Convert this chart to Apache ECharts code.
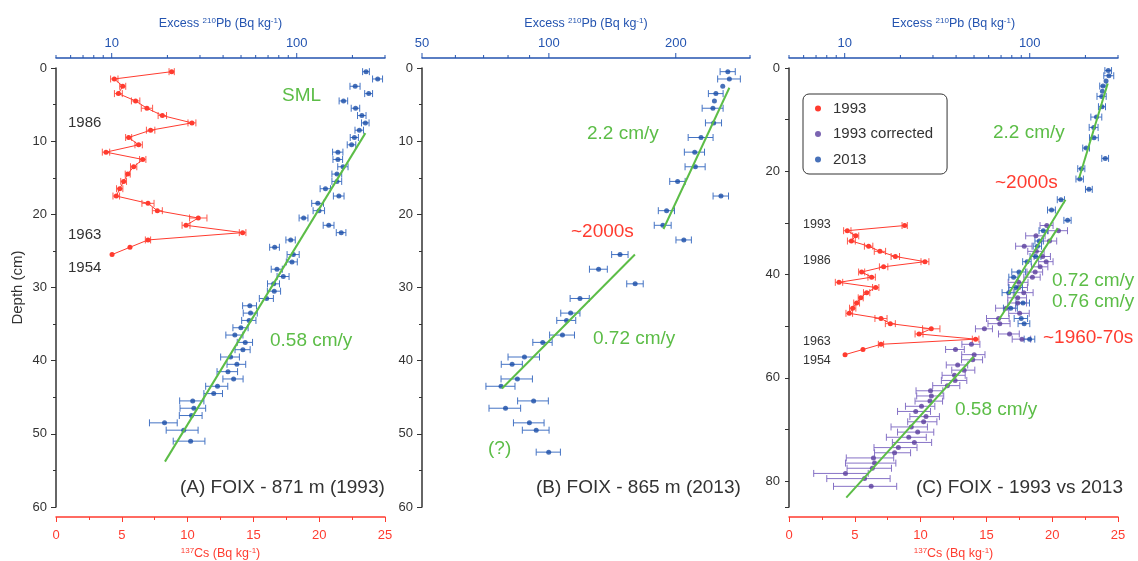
<!DOCTYPE html>
<html>
<head>
<meta charset="utf-8">
<script src="https://cdn.jsdelivr.net/npm/echarts@6/dist/echarts.min.js"></script>
<style>
  html, body { margin: 0; padding: 0; background: #fff; }
  #chart { width: 1138px; height: 561px; }
</style>
</head>
<body>
<div id="chart"></div>
<script>
// ---- data ----
// (A) FOIX 871 m, 1993 core
var csDepthA = [0.5,1.5,2.5,3.5,4.5,5.5,6.5,7.5,8.5,9.5,10.5,11.5,12.5,13.5,14.5,15.5,16.5,17.5,18.5,19.5,20.5,21.5,22.5,23.5,24.5,25.5];
var cs1993 = [8.79,4.43,5.07,4.74,6.05,6.91,8.08,10.33,7.19,5.52,6.28,3.80,6.59,5.90,5.45,5.14,4.84,4.58,6.99,7.70,10.81,9.88,14.18,6.99,5.62,4.26];
var cs1993Err = [0.20,0.28,0.23,0.30,0.32,0.43,0.32,0.30,0.32,0.23,0.28,0.28,0.24,0.24,0.19,0.22,0.24,0.25,0.46,0.38,0.66,0.30,0.25,0.20,0,0];

var pbDepthA = [0.5,1.5,2.5,3.5,4.5,5.5,6.5,7.5,8.5,9.5,10.5,11.5,12.5,13.5,14.5,15.5,16.5,17.5,18.5,19.5,20.5,21.5,22.5,23.5,24.5,25.5,26.5,27.5,28.5,29.5,30.5,31.5,32.5,33.5,34.5,35.5,36.5,37.5,38.5,39.5,40.5,41.5,42.5,43.5,44.5,45.5,46.5,47.5,48.5,49.5,51];
var pb1993 = [237,274,207,245,179,208,225,235,218,205,198,167,167,178,165,165,143,169,130,132,109,149,174,92.8,76,95.9,94.3,78.2,84.6,75.1,75.6,68.8,55.8,56.3,55.3,49.9,46.3,52.7,51.2,43.9,47.5,42.5,45.6,37.3,35.6,27.4,27.8,27.0,19.3,24.5,26.7];
var pb1993Err = [10,17,13,12,9.5,11,11.9,11,11.5,10.4,10.5,10.7,10,11.4,10,10,9.2,11.2,9.5,9.4,6,10,10.4,5.4,4.6,7.2,6.4,5.4,6.3,5.6,6.2,6,4.8,4.9,4.9,4.7,4.9,5,4.8,5.1,5.5,5.4,5.7,5.1,4.1,4.1,4.4,3.8,3.3,4.8,5.2];
var fitA_pb = [235, 19.4];
var fitA_depth = [8.9, 53.8];

// (B) FOIX 865 m, 2013 core
var pbDepthB = [0.5,1.5,2.5,3.5,4.5,5.5,7.5,9.5,11.5,13.5,15.5,17.5,19.5,21.5,23.5,25.5,27.5,29.5,31.5,33.5,34.5,36.5,37.5,39.5,40.5,42.5,43.5,45.5,46.5,48.5,49.5,52.5];
var pb2013 = [265.8,268,258.5,249,247,245,246,229.6,221.8,222.6,202,256,190.2,186.4,209,147.5,131.2,160.2,118.5,112.6,110.1,107.7,96.7,87.5,81.8,84.2,77,92,78.9,89.9,93.3,99.9];
var pb2013Err = [11,16.6,0,10,0,14,10.8,15.6,12.2,12.2,8.5,10.8,8.4,8.6,8.8,6.6,6.4,7.2,6.2,5.9,5.7,7.3,5.1,7.5,4.7,7.2,6.1,7.7,6.8,7.5,6.8,6.6];
var fitB1_pb = [268, 187];
var fitB1_depth = [2.7, 22.0];
var fitB2_pb = [160, 77.4];
var fitB2_depth = [25.5, 43.8];

// (C) 1993 vs 2013 (1993 core shifted, 210Pb decay corrected)
var csDepthC = [30.5,31.5,32.5,33.5,34.5,35.5,36.5,37.5,38.5,39.5,40.5,41.5,42.5,43.5,44.5,45.5,46.5,47.5,48.5,49.5,50.5,51.5,52.5,53.5,54.5,55.5];
var pbDepthC1993 = [30.5,31.5,32.5,33.5,34.5,35.5,36.5,37.5,38.5,39.5,40.5,41.5,42.5,43.5,44.5,45.5,46.5,47.5,48.5,49.5,50.5,51.5,52.5,53.5,54.5,55.5,56.5,57.5,58.5,59.5,60.5,61.5,62.5,63.5,64.5,65.5,66.5,67.5,68.5,69.5,70.5,71.5,72.5,73.5,74.5,75.5,76.5,77.5,78.5,79.5,81];
var pb1993corr = [123.7,143.0,108.1,127.9,93.4,108.6,117.5,122.7,113.8,107.0,103.4,87.2,87.2,92.9,86.1,86.1,74.6,88.2,67.9,68.9,56.9,77.8,90.8,48.4,39.7,50.1,49.2,40.8,44.2,39.2,39.5,35.9,29.1,29.4,28.9,26.0,24.2,27.5,26.7,22.9,24.8,22.2,23.8,19.5,18.6,14.3,14.5,14.1,10.1,12.8,13.9];
var fitC1_pb = [264, 185];
var fitC1_depth = [3.0, 21.3];
var fitC2_pb = [156, 77];
var fitC2_depth = [25.5, 43.7];
var fitC3_pb = [141.7, 68];
var fitC3_depth = [31, 48.8];
var fitC4_pb = [49.8, 10.2];
var fitC4_depth = [55.9, 83.2];

// axis ticks
var pbTicksAC = [5,6,7,8,9,10,20,30,40,50,60,70,80,90,100,200,300];
var pbMajorAC = [10,100];
var pbTicksB = [50,60,70,80,90,100,200,300];
var pbMajorB = [50,100,200];

// ---- styles ----
var FONT = '"Liberation Sans", Arial, sans-serif';
var RED = '#ff3b2f', RED_BAR = '#ff5a4d';
var BLUE = '#1a4ea8', BLUE_BAR = '#4473c4';
var PURPLE = '#5a3d9e', PURPLE_BAR = '#8672c6';
var GREEN = '#5cbd47';
var PB_AXIS = '#2454b0';
var DARK = '#333333';

function pairs(xs, ys) { return xs.map(function (x, i) { return [x, ys[i]]; }); }
function errData(xs, ys, es) {
  var out = [];
  xs.forEach(function (x, i) { if (es[i] > 0) out.push([x, ys[i], x - es[i], x + es[i]]); });
  return out;
}
function errorBarItem(params, api) {
  var y = api.value(1);
  var lo = api.coord([api.value(2), y]);
  var hi = api.coord([api.value(3), y]);
  var h = 3.5;
  var st = { stroke: api.visual('color'), lineWidth: 1 };
  return { type: 'group', children: [
    { type: 'line', shape: { x1: lo[0], y1: lo[1], x2: hi[0], y2: hi[1] }, style: st },
    { type: 'line', shape: { x1: lo[0], y1: lo[1] - h, x2: lo[0], y2: lo[1] + h }, style: st },
    { type: 'line', shape: { x1: hi[0], y1: hi[1] - h, x2: hi[0], y2: hi[1] + h }, style: st }
  ]};
}
// log-axis ticks and labels (ECharts only ticks whole decades on a log axis)
function tickItem(params, api) {
  var v = api.value(0), major = api.value(2);
  var x = api.coord([v, 0])[0];
  var y0 = params.coordSys.y - 10;
  var len = major ? 5 : 3;
  var ch = [{ type: 'line', shape: { x1: x, y1: y0, x2: x, y2: y0 - len }, style: { stroke: PB_AXIS, lineWidth: 1 } }];
  if (major) {
    ch.push({ type: 'text', x: x, y: y0 - 8, style: { text: String(v), fill: PB_AXIS, font: '13px ' + FONT, align: 'center', verticalAlign: 'bottom' } });
  }
  return { type: 'group', children: ch };
}
function tickData(ticks, major) {
  return ticks.map(function (v) { return [v, 0, major.indexOf(v) >= 0 ? 1 : 0]; });
}

function pbAxis(grid, min, max) {
  return {
    type: 'log', logBase: 10, gridIndex: grid, position: 'top', offset: 10, min: min, max: max,
    axisLine: { onZero: false, lineStyle: { color: PB_AXIS, width: 1.5 } },
    axisTick: { show: false }, axisLabel: { show: false }, splitLine: { show: false },
    name: 'Excess {sup|210}Pb (Bq kg{sup|-1})', nameLocation: 'middle', nameGap: 28,
    nameTextStyle: { color: PB_AXIS, fontSize: 12.5, fontFamily: FONT,
      rich: { sup: { fontSize: 8, color: PB_AXIS, verticalAlign: 'top', fontFamily: FONT } } }
  };
}
function csAxis(grid) {
  return {
    type: 'value', gridIndex: grid, position: 'bottom', offset: 10, min: 0, max: 25, interval: 5,
    axisLine: { onZero: false, lineStyle: { color: RED, width: 1.5 } },
    axisTick: { length: 5, lineStyle: { color: RED } },
    minorTick: { show: true, splitNumber: 2, length: 3, lineStyle: { color: RED } },
    axisLabel: { color: RED, fontSize: 13, fontFamily: FONT, margin: 12 },
    splitLine: { show: false }, minorSplitLine: { show: false },
    name: '{sup|137}Cs (Bq kg{sup|-1})', nameLocation: 'middle', nameGap: 28,
    nameTextStyle: { color: RED, fontSize: 12.5, fontFamily: FONT,
      rich: { sup: { fontSize: 8, color: RED, verticalAlign: 'top', fontFamily: FONT } } }
  };
}
function depthAxis(grid, max, interval, name) {
  var ax = {
    type: 'value', gridIndex: grid, inverse: true, min: 0, max: max, interval: interval,
    axisLine: { onZero: false, lineStyle: { color: DARK, width: 1.5 } },
    axisTick: { length: 5, lineStyle: { color: DARK } },
    minorTick: { show: true, splitNumber: 2, length: 3, lineStyle: { color: DARK } },
    axisLabel: { color: DARK, fontSize: 13, fontFamily: FONT, margin: 9 },
    splitLine: { show: false }
  };
  if (name) {
    ax.name = name; ax.nameLocation = 'middle'; ax.nameGap = 31;
    ax.nameTextStyle = { color: DARK, fontSize: 15, fontFamily: FONT };
  }
  return ax;
}
function fitLine(xi, yi, xs, ys) {
  return { type: 'line', xAxisIndex: xi, yAxisIndex: yi, data: pairs(xs, ys), symbol: 'none',
    lineStyle: { color: GREEN, width: 2 }, z: 5, silent: true };
}
function errSeries(xi, yi, data, color) {
  return { type: 'custom', xAxisIndex: xi, yAxisIndex: yi, renderItem: errorBarItem, data: data,
    itemStyle: { color: color }, encode: { x: 0, y: 1 }, clip: false, silent: true, z: 2 };
}
function dots(name, xi, yi, data, color) {
  return { name: name, type: 'scatter', xAxisIndex: xi, yAxisIndex: yi, data: data,
    symbolSize: 5, itemStyle: { color: color }, z: 4, silent: true };
}
function tickSeries(xi, yi, ticks, major) {
  return { type: 'custom', xAxisIndex: xi, yAxisIndex: yi, renderItem: tickItem, data: tickData(ticks, major),
    encode: { x: 0, y: 1 }, clip: false, silent: true };
}
function redLine(name, xi, yi, xs, ys) {
  return { name: name, type: 'line', xAxisIndex: xi, yAxisIndex: yi, data: pairs(xs, ys),
    symbol: 'circle', symbolSize: 5, itemStyle: { color: RED }, lineStyle: { color: RED, width: 1 }, z: 4, silent: true };
}

var cDepthC = depthAxis(2, 85, 10);
cDepthC.axisLabel.formatter = function (v) { return v % 20 === 0 ? v : ''; };
cDepthC.minorTick.show = false;
cDepthC.axisTick.length = 4;

function txt(x, y, s, size, color) {
  return { type: 'text', x: x, y: y, style: { text: s, fill: color, font: size + 'px ' + FONT, verticalAlign: 'middle' } };
}

var chart = echarts.init(document.getElementById('chart'), null, { renderer: 'canvas' });
chart.setOption({
  animation: false,
  textStyle: { fontFamily: FONT },
  grid: [
    { left: 56, top: 68, width: 329, height: 439, outerBoundsMode: 'none', containLabel: false },
    { left: 422, top: 68, width: 328, height: 439, outerBoundsMode: 'none', containLabel: false },
    { left: 789, top: 68, width: 329, height: 439, outerBoundsMode: 'none', containLabel: false }
  ],
  xAxis: [pbAxis(0, 5, 300), csAxis(0), pbAxis(1, 50, 300), pbAxis(2, 5, 300), csAxis(2)],
  yAxis: [depthAxis(0, 60, 10, 'Depth (cm)'), depthAxis(1, 60, 10), cDepthC],
  legend: {
    orient: 'vertical', left: 803, top: 94, padding: [7, 14, 7, 12], itemGap: 10.5,
    itemWidth: 20, itemHeight: 6, borderColor: DARK, borderWidth: 1, borderRadius: 6,
    textStyle: { fontSize: 15, color: DARK, fontFamily: FONT },
    data: [{ name: '1993', icon: 'circle' }, { name: '1993 corrected', icon: 'circle' }, { name: '2013', icon: 'circle' }],
    selectedMode: false
  },
  series: [
    // A
    errSeries(1, 0, errData(cs1993, csDepthA, cs1993Err), RED_BAR),
    redLine('A 1993 Cs', 1, 0, cs1993, csDepthA),
    errSeries(0, 0, errData(pb1993, pbDepthA, pb1993Err), BLUE_BAR),
    dots('A 1993 Pb', 0, 0, pairs(pb1993, pbDepthA), BLUE),
    fitLine(0, 0, fitA_pb, fitA_depth),
    tickSeries(0, 0, pbTicksAC, pbMajorAC),
    // B
    errSeries(2, 1, errData(pb2013, pbDepthB, pb2013Err), BLUE_BAR),
    dots('B 2013 Pb', 2, 1, pairs(pb2013, pbDepthB), BLUE),
    fitLine(2, 1, fitB1_pb, fitB1_depth),
    fitLine(2, 1, fitB2_pb, fitB2_depth),
    tickSeries(2, 1, pbTicksB, pbMajorB),
    // C
    errSeries(4, 2, errData(cs1993, csDepthC, cs1993Err), RED_BAR),
    redLine('1993', 4, 2, cs1993, csDepthC),
    errSeries(3, 2, errData(pb1993corr, pbDepthC1993, pb1993Err), PURPLE_BAR),
    dots('1993 corrected', 3, 2, pairs(pb1993corr, pbDepthC1993), PURPLE),
    errSeries(3, 2, errData(pb2013, pbDepthB, pb2013Err), BLUE_BAR),
    dots('2013', 3, 2, pairs(pb2013, pbDepthB), BLUE),
    fitLine(3, 2, fitC1_pb, fitC1_depth),
    fitLine(3, 2, fitC2_pb, fitC2_depth),
    fitLine(3, 2, fitC3_pb, fitC3_depth),
    fitLine(3, 2, fitC4_pb, fitC4_depth),
    tickSeries(3, 2, pbTicksAC, pbMajorAC)
  ],
  graphic: [
    txt(68, 123, '1986', 15, DARK),
    txt(68, 235, '1963', 15, DARK),
    txt(68, 268, '1954', 15, DARK),
    txt(282, 96, 'SML', 19, GREEN),
    txt(270, 341, '0.58 cm/y', 19, GREEN),
    txt(180, 488, '(A) FOIX - 871 m (1993)', 19, DARK),
    txt(587, 134, '2.2 cm/y', 19, GREEN),
    txt(571, 232, '~2000s', 19, RED),
    txt(593, 339, '0.72 cm/y', 19, GREEN),
    txt(488, 449, '(?)', 19, GREEN),
    txt(536, 488, '(B) FOIX - 865 m (2013)', 19, DARK),
    txt(993, 133, '2.2 cm/y', 19, GREEN),
    txt(995, 183, '~2000s', 19, RED),
    txt(803, 225, '1993', 12.5, DARK),
    txt(803, 261, '1986', 12.5, DARK),
    txt(803, 342, '1963', 12.5, DARK),
    txt(803, 361, '1954', 12.5, DARK),
    txt(1052, 281, '0.72 cm/y', 19, GREEN),
    txt(1052, 302, '0.76 cm/y', 19, GREEN),
    txt(1043, 338, '~1960-70s', 19, RED),
    txt(955, 410, '0.58 cm/y', 19, GREEN),
    txt(916, 488, '(C) FOIX - 1993 vs 2013', 19, DARK)
  ]
});
</script>
</body>
</html>
